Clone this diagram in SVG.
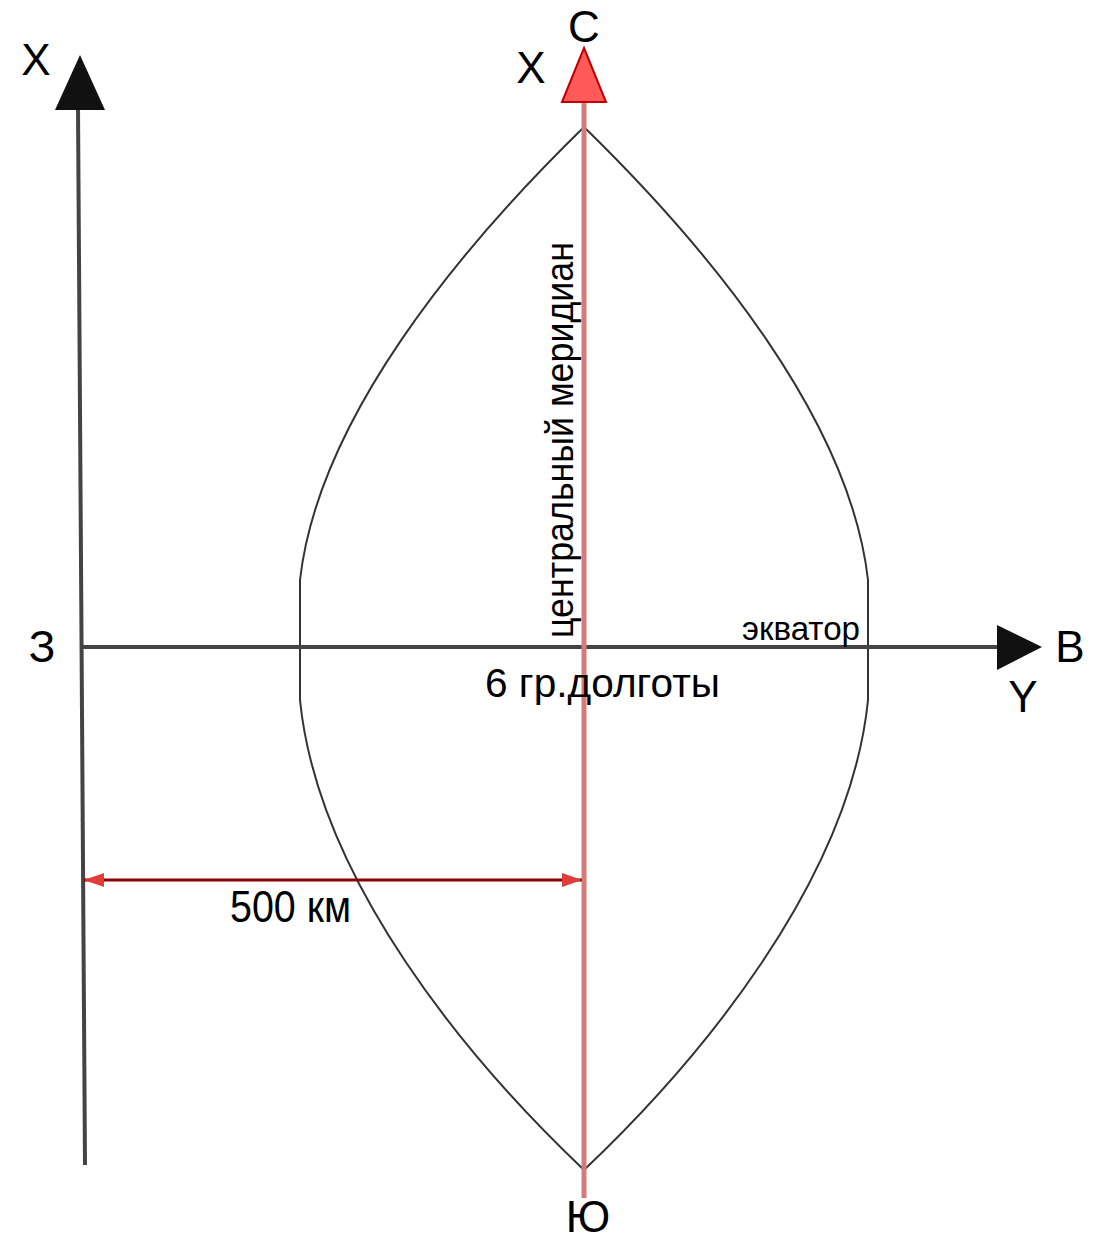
<svg xmlns="http://www.w3.org/2000/svg" width="1094" height="1239" viewBox="0 0 1094 1239">
<style>
  text { font-family: "Liberation Sans", Arial, sans-serif; fill: #000; }
  .axis { stroke: #444; stroke-width: 4; fill: none; }
  .lens { stroke: #333; stroke-width: 2; fill: none; }
  .meridian { stroke: #d67a7a; stroke-width: 5; fill: none; }
  .dim { stroke: #8b0000; stroke-width: 3; fill: none; }
  .big { font-size: 44px; text-anchor: middle; }
</style>
<defs>
  <marker id="redArrow" markerWidth="22" markerHeight="16" refX="20" refY="8" orient="auto-start-reverse" markerUnits="userSpaceOnUse">
    <path d="M0,1 L20,8 L0,15 Z" fill="#e03c3c"/>
  </marker>
</defs>
<rect width="1094" height="1239" fill="#fff"/>

<g id="lens">
  <path class="lens" d="M584,127 C710,250 850,420 868,580 L868,700 C850,880 700,1060 584,1170"/>
  <path class="lens" d="M584,127 C458,250 318,420 300,580 L300,700 C318,880 468,1060 584,1170"/>
</g>

<g id="connectors">
  <line id="axis-x-left" class="axis" x1="78" y1="108" x2="85" y2="1165"/>
  <polygon points="80,55 105,110 55,110" fill="#111"/>
  <line id="equator" class="axis" x1="82" y1="647" x2="1000" y2="647"/>
  <polygon points="997,625 1042,647 997,670" fill="#111"/>
  <line id="central-meridian" class="meridian" x1="584" y1="100" x2="584" y2="1198"/>
  <polygon points="584,48 606,102 562,102" fill="#ff5a5a" stroke="#c00000" stroke-width="2"/>
  <line id="dim-500" class="dim" x1="84" y1="880" x2="582" y2="880" marker-start="url(#redArrow)" marker-end="url(#redArrow)"/>
</g>

<g id="labels">
  <text class="big" x="36" y="75">X</text>
  <text class="big" x="584" y="42">С</text>
  <text class="big" x="531" y="83">X</text>
  <text class="big" x="42" y="662">З</text>
  <text class="big" x="1070" y="662">В</text>
  <text class="big" x="1023" y="712">Y</text>
  <text class="big" x="588" y="1232" font-size="41">Ю</text>
  <text x="742" y="640" font-size="34" textLength="118" lengthAdjust="spacingAndGlyphs">экватор</text>
  <text x="485" y="697" font-size="40" textLength="235" lengthAdjust="spacingAndGlyphs">6 гр.долготы</text>
  <text x="230" y="922" font-size="44" textLength="121" lengthAdjust="spacingAndGlyphs">500 км</text>
  <text transform="translate(573,638) rotate(-90)" x="0" y="0" font-size="38" textLength="396" lengthAdjust="spacingAndGlyphs">центральный меридиан</text>
</g>
</svg>
